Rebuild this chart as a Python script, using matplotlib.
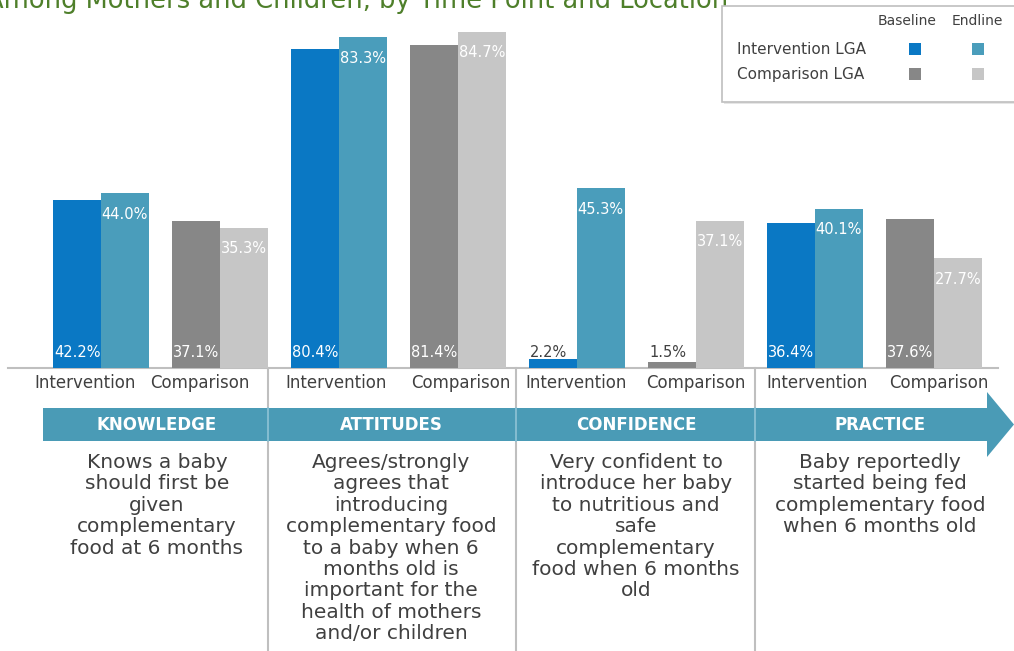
import matplotlib
matplotlib.use("Agg")
import matplotlib.pyplot as plt
from matplotlib.patches import Polygon, Rectangle
import numpy as np

# data
domains = ["KNOWLEDGE", "ATTITUDES", "CONFIDENCE", "PRACTICE"]
groups = ["Intervention", "Comparison"]
intervention_baseline = [42.2, 80.4, 2.2, 36.4]
intervention_endline = [44.0, 83.3, 45.3, 40.1]
comparison_baseline = [37.1, 81.4, 1.5, 37.6]
comparison_endline = [35.3, 84.7, 37.1, 27.7]
descriptions = [
    "Knows a baby\nshould first be\ngiven\ncomplementary\nfood at 6 months",
    "Agrees/strongly\nagrees that\nintroducing\ncomplementary food\nto a baby when 6\nmonths old is\nimportant for the\nhealth of mothers\nand/or children",
    "Very confident to\nintroduce her baby\nto nutritious and\nsafe\ncomplementary\nfood when 6 months\nold",
    "Baby reportedly\nstarted being fed\ncomplementary food\nwhen 6 months old",
]
title = "Among Mothers and Children, by Time Point and Location"

# colours
c_int_base = "#0A78C4"
c_int_end = "#4A9DBB"
c_cmp_base = "#878787"
c_cmp_end = "#C6C6C6"
c_text = "#404040"
c_band = "#4A9BB6"
c_sep = "#BFBFBF"

W, H = 1014, 651
fig = plt.figure(figsize=(W / 100, H / 100), dpi=100)

# background axes in pixel coordinates for the decorations
bg = fig.add_axes([0, 0, 1, 1])
bg.set_xlim(0, W)
bg.set_ylim(H, 0)
bg.axis("off")

# bar axes: baseline at y=368 px
base_px = 368
px_per_pct = 3.97
pair_x0, pair_step = 101, 119
ax = fig.add_axes([0, (H - base_px) / H, 1, base_px / H])
ax.set_ylim(0, base_px / px_per_pct)
ax.set_xlim(-pair_x0 / pair_step, (W - pair_x0) / pair_step)
ax.patch.set_alpha(0)
ax.axis("off")

w = 0.4
baseline_vals = []
endline_vals = []
base_cols = []
end_cols = []
for k in range(len(domains)):
    baseline_vals += [intervention_baseline[k], comparison_baseline[k]]
    endline_vals += [intervention_endline[k], comparison_endline[k]]
    base_cols += [c_int_base, c_cmp_base]
    end_cols += [c_int_end, c_cmp_end]
idx = np.arange(len(baseline_vals))

ax.bar(idx - w / 2, baseline_vals, w, color=base_cols, zorder=2)
ax.bar(idx + w / 2, endline_vals, w, color=end_cols, zorder=2)

for i in idx:
    b = baseline_vals[i]
    col = "white" if b > 10 else c_text
    ax.text(i - w + 0.005, 4.0, f"{b:.1f}%", color=col, fontsize=10.5,
            ha="left", va="center", zorder=3)
    e = endline_vals[i]
    ax.annotate(f"{e:.1f}%", (i + 0.005, e), xytext=(0, -21),
                textcoords="offset pixels", color="white", fontsize=10.5,
                ha="left", va="center", zorder=3)

# axis line and separators
bg.plot([8, 998], [base_px, base_px], color=c_sep, lw=1.5, zorder=1)
for sx in [268, 516, 755]:
    bg.plot([sx, sx], [base_px, H], color=c_sep, lw=1.5, zorder=1)

# category labels
label_x = [85, 200, 336, 461, 576, 696, 817, 939]
for i, lx in enumerate(label_x):
    bg.text(lx, 383, groups[i % 2], color=c_text, fontsize=12,
            ha="center", va="center")

# arrow band
arrow = Polygon([[43, 408], [987, 408], [987, 392], [1014, 424.5],
                 [987, 457], [987, 441], [43, 441]],
                closed=True, facecolor=c_band, edgecolor="none", zorder=2)
bg.add_patch(arrow)
for sx in [268, 516, 755]:
    bg.plot([sx, sx], [408, 441], color="#8FC3D6", lw=1.2, zorder=3)

sec_x = [157, 391, 636, 880]
for name, sx, desc in zip(domains, sec_x, descriptions):
    bg.text(sx, 425, name, color="white", fontsize=12, fontweight="bold",
            ha="center", va="center", zorder=4)
    bg.text(sx, 453, desc, color=c_text, fontsize=14.5, ha="center",
            va="top", linespacing=1.16)

# title (lower part of a longer heading, clipped by the image edge)
bg.text(728, 8, title, color="#4E7F2A", fontsize=18.5, ha="right",
        va="baseline")

# legend box (runs off the right edge)
bg.add_patch(Rectangle((724, 8), 300, 96, facecolor="#E6E6E6",
                       edgecolor="none", zorder=4))
bg.add_patch(Rectangle((722, 6), 300, 96, facecolor="white",
                       edgecolor=c_sep, lw=1.2, zorder=5))
bg.text(907, 21, "Baseline", color=c_text, fontsize=10, ha="center",
        va="center", zorder=6)
bg.text(977, 21, "Endline", color=c_text, fontsize=10, ha="center",
        va="center", zorder=6)
leg_rows = [("Intervention LGA", c_int_base, c_int_end, 49),
            ("Comparison LGA", c_cmp_base, c_cmp_end, 74)]
for lab, cb, ce, ly in leg_rows:
    bg.text(737, ly, lab, color=c_text, fontsize=11, ha="left",
            va="center", zorder=6)
    bg.add_patch(Rectangle((909, ly - 6), 12, 12, facecolor=cb,
                           edgecolor="none", zorder=6))
    bg.add_patch(Rectangle((972, ly - 6), 12, 12, facecolor=ce,
                           edgecolor="none", zorder=6))

fig.savefig("out.png", dpi=100)
